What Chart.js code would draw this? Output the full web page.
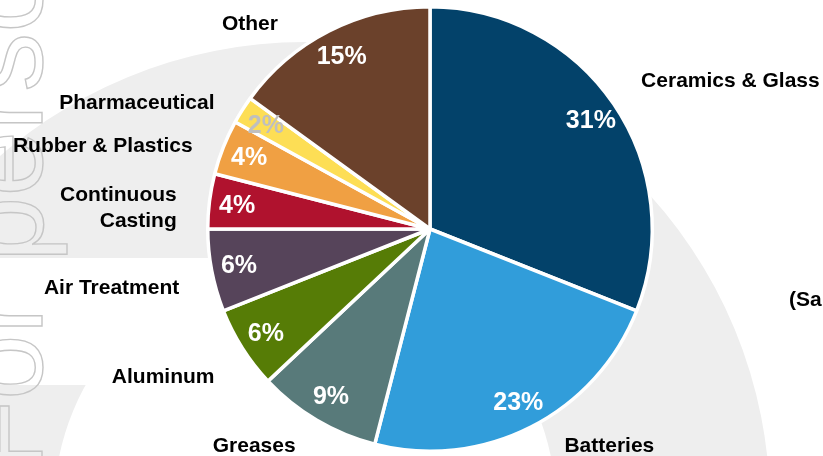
<!DOCTYPE html>
<html>
<head>
<meta charset="utf-8">
<script src="https://cdn.jsdelivr.net/npm/chart.js@4.4.1/dist/chart.umd.min.js"></script>
<style>
  html, body { margin: 0; padding: 0; background: #fff; }
  #wrap { position: relative; width: 823px; height: 456px; overflow: hidden; }
</style>
</head>
<body>
<div id="wrap"><canvas id="mixChart" width="823" height="456"></canvas></div>
<script>
// end-market split, clockwise from 12 o'clock
const categories = ['Ceramics & Glass', 'Batteries', 'Greases', 'Aluminum', 'Air Treatment',
    ['Continuous', 'Casting'], 'Rubber & Plastics', 'Pharmaceutical', 'Other'];
const shares = [31, 23, 9, 6, 6, 4, 4, 2, 15];
const sideNote = '(Sales)';
const watermark = 'For personal use only';

const sliceColors = ['#03426A', '#319DDA', '#587A7A', '#567C06', '#56445A',
    '#B0122E', '#F0A043', '#FDDE55', '#6B412B'];
const pctColors = ['#fff', '#fff', '#fff', '#fff', '#fff', '#fff', '#fff', '#BFBFBF', '#fff'];

const FONT = '"Liberation Sans", Arial, sans-serif';

// light grey logo ring + vertical watermark behind the pie
const backdrop = {
    id: 'backdrop',
    beforeDraw(chart) {
        const { ctx, width, height } = chart;
        ctx.save();
        ctx.fillStyle = '#fff';
        ctx.fillRect(0, 0, width, height);

        ctx.fillStyle = '#EEEEEE';
        ctx.beginPath();
        ctx.arc(305, 507, 465, 0, Math.PI * 2);
        ctx.arc(305, 507, 251, 0, Math.PI * 2, true);
        ctx.fill();
        ctx.fillStyle = '#fff';
        ctx.fillRect(0, 258, 305, 127);

        ctx.translate(42, 472);
        ctx.rotate(-Math.PI / 2);
        ctx.font = '118px ' + FONT;
        ctx.textBaseline = 'alphabetic';
        ctx.strokeStyle = '#C6C6C6';
        ctx.lineWidth = 1.4;
        ctx.strokeText(watermark, 0, 0);
        ctx.restore();
    }
};

// percentages inside, category names outside
const sliceLabels = {
    id: 'sliceLabels',
    afterDatasetsDraw(chart) {
        const { ctx, height } = chart;
        const arcs = chart.getDatasetMeta(0).data;
        ctx.save();
        arcs.forEach((arc, i) => {
            const { x, y, startAngle, endAngle, outerRadius } =
                arc.getProps(['x', 'y', 'startAngle', 'endAngle', 'outerRadius'], true);
            const mid = (startAngle + endAngle) / 2;
            const cos = Math.cos(mid), sin = Math.sin(mid);

            // value
            const ri = outerRadius * 0.875;
            ctx.font = 'bold 25px ' + FONT;
            ctx.fillStyle = pctColors[i];
            ctx.textAlign = 'center';
            ctx.textBaseline = 'middle';
            ctx.fillText(shares[i] + '%', x + cos * ri, y + sin * ri + 1);

            // name, slid along the label circle to stay inside the canvas
            const ro = outerRadius + 33;
            let lx = x + cos * ro, ly = y + sin * ro + (cos < 0 ? 11 : -4);
            const top = 24, bottom = height - 10;
            if (ly < top || ly > bottom) {
                ly = Math.min(Math.max(ly, top), bottom);
                const dx = Math.sqrt(Math.max(ro * ro - (ly - y) * (ly - y), 0));
                lx = x + (cos < 0 ? -dx : dx);
            }
            const lines = Array.isArray(categories[i]) ? categories[i] : [categories[i]];
            const lh = 26;
            ctx.font = 'bold 21px ' + FONT;
            ctx.fillStyle = '#000';
            ctx.textAlign = cos < 0 ? 'right' : 'left';
            lines.forEach((t, k) => {
                ctx.fillText(t, lx, ly + (k - (lines.length - 1) / 2) * lh);
            });
        });

        ctx.font = 'bold 21px ' + FONT;
        ctx.textAlign = 'left';
        ctx.fillText(sideNote, 789, 300);
        ctx.restore();
    }
};

new Chart(document.getElementById('mixChart'), {
    type: 'pie',
    data: {
        labels: categories,
        datasets: [{
            data: shares,
            backgroundColor: sliceColors,
            borderColor: '#fff',
            borderWidth: 3.5,
        }]
    },
    options: {
        responsive: false,
        animation: false,
        layout: { padding: { top: 5, bottom: 3, left: 37, right: 0 } },
        plugins: { legend: { display: false }, tooltip: { enabled: false } }
    },
    plugins: [backdrop, sliceLabels]
});
</script>
</body>
</html>
